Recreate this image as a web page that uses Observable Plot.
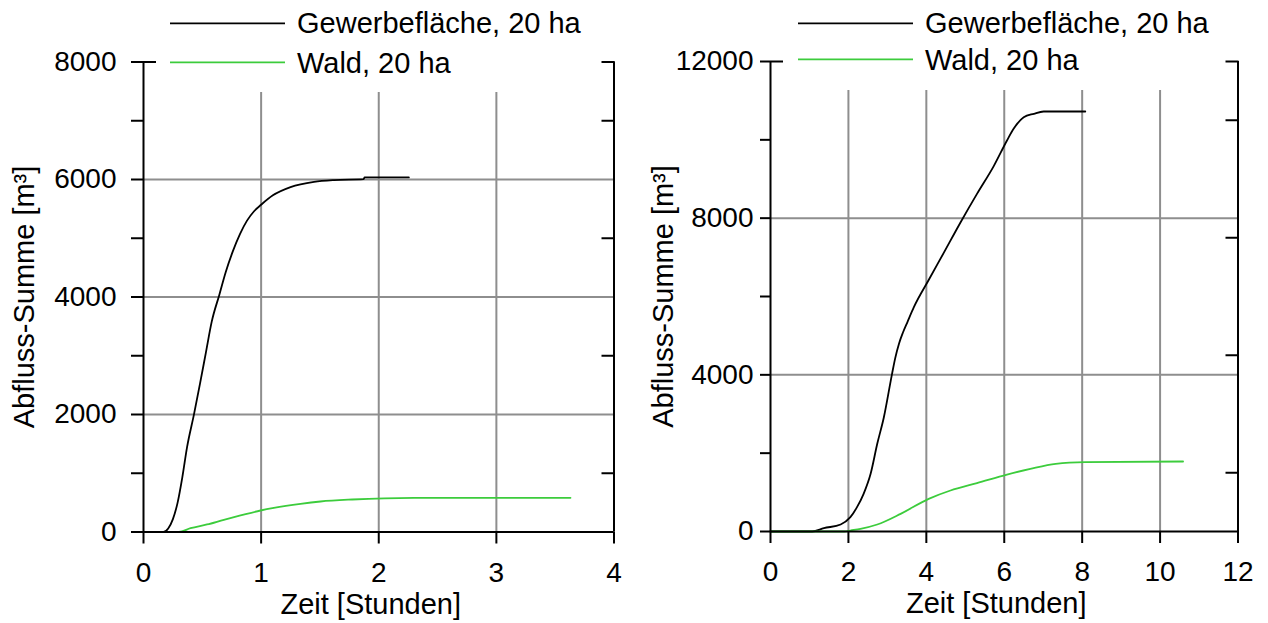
<!DOCTYPE html>
<html>
<head>
<meta charset="utf-8">
<script src="https://cdn.jsdelivr.net/npm/d3@7"></script>
<script src="https://cdn.jsdelivr.net/npm/@observablehq/plot@0.6"></script>
<style>
  html, body { margin: 0; padding: 0; background: #fff; }
  #wrap { position: relative; width: 1268px; height: 623px; overflow: hidden; background: #fff;
          font-family: "Liberation Sans", Arial, sans-serif; }
  #wrap svg { position: absolute; top: 0; }
  #wrap g[aria-label="x-axis tick label"], #wrap g[aria-label="y-axis tick label"] { font-size: 28px; }
</style>
</head>
<body>
<div id="wrap"></div>
<script>
// ---- data ----
const series = ["Gewerbefläche, 20 ha", "Wald, 20 ha"];
const seriesColors = ["#000000", "#3ccc3c"];
const xLabel = "Zeit [Stunden]";
const yLabel = "Abfluss-Summe [m³]";

// left chart: [Zeit (h), Abfluss-Summe (m³)]
const leftGewerbe = [[0,0],[0.17,0],[0.21,60],[0.25,220],[0.29,500],[0.33,930],[0.37,1440],[0.43,2010],
  [0.48,2520],[0.53,3050],[0.58,3580],[0.645,4040],[0.70,4430],[0.76,4780],[0.82,5070],[0.88,5300],
  [0.94,5460],[1.0,5570],[1.1,5730],[1.25,5870],[1.45,5960],[1.62,5990],[1.87,6005],[1.88,6035],[2.256,6035]];
const leftWald = [[0,0],[0.30,0],[0.40,65],[0.54,128],[0.683,207],[0.825,281],[0.995,366],[1.108,411],
  [1.335,480],[1.505,519],[1.775,553],[2.30,582],[3.63,582]];

// right chart
const rightGewerbe = [[0,0],[1.07,0],[1.37,85],[1.80,179],[2.05,366],[2.22,621],[2.39,962],[2.57,1473],
  [2.74,2239],[2.91,2918],[3.12,4026],[3.20,4420],[3.30,4800],[3.40,5080],[3.52,5360],[3.68,5727],
  [4.06,6420],[4.45,7120],[4.88,7897],[5.30,8620],[5.73,9330],[6.07,9983],[6.24,10281],[6.50,10578],
  [6.76,10665],[7.01,10723],[8.08,10723]];
const rightWald = [[0,0],[1.9,0],[2.05,25],[2.31,68],[2.74,179],[3.34,451],[4.06,834],[4.62,1047],[5.30,1234],
  [6.07,1455],[6.67,1600],[7.32,1728],[8.08,1770],[10.59,1787]];

// ticks
const leftXTicks = [0,1,2,3,4];
const leftYMajor = [0,2000,4000,6000,8000];
const leftYMinor = [1000,3000,5000,7000];
const leftRightTicks = [1000,3000,5000,7000,8000];
const rightXTicks = [0,2,4,6,8,10,12];
const rightYMajor = [0,4000,8000,12000];
const rightYMinor = [2000,6000,10000];
const rightRightTicks = [1500,4500,7500,10500,12000];

const FONT = '"Liberation Sans", Arial, sans-serif';
const GRID = "#8e8e8e";

function chart(cfg) {
  const rows = [
    ...cfg.black.map(([t, v]) => ({t, v, s: series[0]})),
    ...cfg.green.map(([t, v]) => ({t, v, s: series[1]}))
  ];
  const ymax = cfg.yDomain[1];
  return Plot.plot({
    width: 634, height: 623,
    marginLeft: cfg.ml, marginRight: cfg.mr, marginTop: cfg.mt, marginBottom: cfg.mb,
    x: {domain: cfg.xDomain},
    y: {domain: cfg.yDomain},
    color: {domain: series, range: seriesColors},
    style: {fontFamily: FONT, fontSize: "28px", color: "#000", background: "transparent", overflow: "visible"},
    marks: [
      Plot.ruleX(cfg.xGrid, {y1: 0, y2: cfg.gridTop, stroke: GRID, strokeWidth: 2}),
      Plot.ruleY(cfg.yGrid, {stroke: GRID, strokeWidth: 2}),
      Plot.line(rows, {x: "t", y: "v", z: "s", stroke: "s", strokeWidth: 1.8, curve: "monotone-x"}),
      Plot.ruleX(cfg.xDomain, {stroke: "#000", strokeWidth: 2}),
      Plot.ruleY([0], {stroke: "#000", strokeWidth: 2}),
      Plot.axisX({ticks: cfg.xTicks, tickSize: 12, tickPadding: 18, tickFormat: d => String(d),
                  label: null, strokeWidth: 2, fontSize: 28}),
      Plot.axisY({ticks: [...cfg.yMajor, ...cfg.yMinor], tickSize: cfg.yTickSize, tickPadding: cfg.yTickPad,
                  tickFormat: d => cfg.yMajor.includes(d) ? String(d) : "", label: null, strokeWidth: 2, fontSize: 28}),
      Plot.axisY({anchor: "left", ticks: [ymax], tickSize: 13, dx: 13, tickFormat: () => "", label: null, strokeWidth: 2}),
      Plot.axisY({anchor: "right", ticks: cfg.rightTicks, tickSize: 13, dx: -13, tickFormat: () => "", label: null, strokeWidth: 2}),
      Plot.text([xLabel], {frameAnchor: "bottom", textAnchor: "middle", lineAnchor: "bottom", dy: 81.5, dx: -8, fontSize: 29, text: d => d}),
      Plot.text([yLabel], {frameAnchor: "left", textAnchor: "middle", rotate: -90, lineAnchor: "bottom", dx: cfg.yLabDx, fontSize: 29, text: d => d})
    ]
  });
}

const wrap = document.getElementById("wrap");

const left = chart({
  black: leftGewerbe, green: leftWald,
  xDomain: [0, 4], yDomain: [0, 8000],
  xGrid: [1, 2, 3], yGrid: [2000, 4000, 6000], gridTop: 7480,
  xTicks: leftXTicks, yMajor: leftYMajor, yMinor: leftYMinor, rightTicks: leftRightTicks,
  yTickSize: 12, yTickPad: 15, yLabDx: -110,
  ml: 143, mr: 20.5, mt: 61.5, mb: 91.5
});
left.style.left = "0px";
wrap.appendChild(left);

const right = chart({
  black: rightGewerbe, green: rightWald,
  xDomain: [0, 12], yDomain: [0, 12000],
  xGrid: [2, 4, 6, 8, 10], yGrid: [4000, 8000], gridTop: 11260,
  xTicks: rightXTicks, yMajor: rightYMajor, yMinor: rightYMinor, rightTicks: rightRightTicks,
  yTickSize: 10, yTickPad: 7, yLabDx: -98,
  ml: 136, mr: 30.5, mt: 61, mb: 92
});
right.style.left = "634px";
wrap.appendChild(right);

// legends (overlay)
const legendLayout = [
  {x0: 170, x1: 285, tx: 297, ly: [23.3, 62.3], ty: [33.3, 73.3]},
  {x0: 798, x1: 913, tx: 925, ly: [23.3, 59.3], ty: [32.5, 70]}
];
const ov = d3.select(wrap).append("svg")
  .attr("width", 1268).attr("height", 623)
  .style("left", "0px").style("pointer-events", "none");
legendLayout.forEach(L => {
  series.forEach((name, i) => {
    ov.append("line").attr("x1", L.x0).attr("x2", L.x1).attr("y1", L.ly[i]).attr("y2", L.ly[i])
      .attr("stroke", seriesColors[i]).attr("stroke-width", 1.8);
    ov.append("text").attr("x", L.tx).attr("y", L.ty[i])
      .attr("font-family", FONT).attr("font-size", 29).attr("fill", "#000").text(name);
  });
});
</script>
</body>
</html>
